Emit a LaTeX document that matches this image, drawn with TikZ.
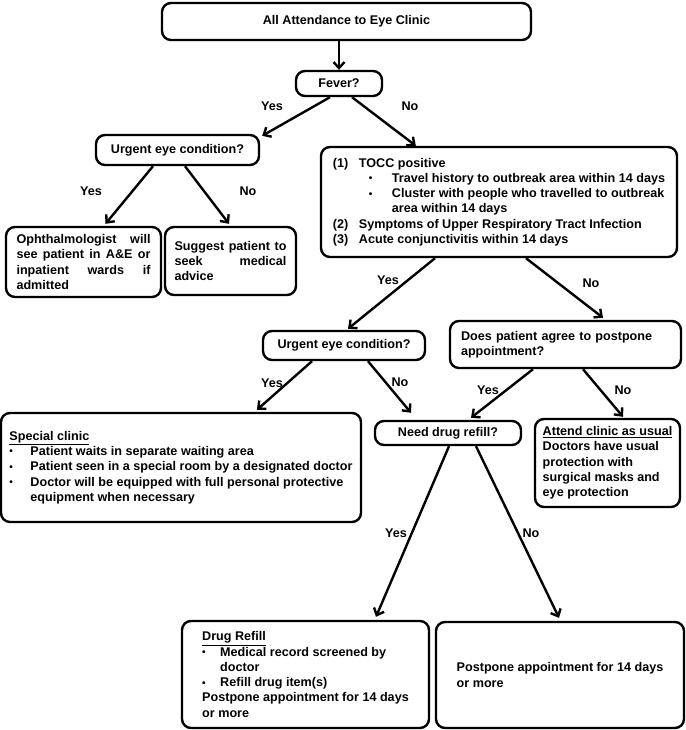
\documentclass[tikz,border=0pt]{standalone}
\usepackage{fontspec}
\setmainfont{Liberation Sans}
\usetikzlibrary{arrows.meta, calc}
\definecolor{ink}{HTML}{000000}
\newcommand{\FlowF}{\fontsize{12.6}{15.3}\selectfont\bfseries}
\newcommand{\flowbox}[7][]{%
  \node[box, minimum width={(#5-#3)*1pt}, minimum height={(#6-#4)*1pt}, #1]
    (#2) at ({(#3+#5)/2},{(#4+#6)/2}) {#7};
}
\newcommand{\bulitem}[1][21pt]{\makebox[#1][l]{\raisebox{0.5pt}{\scalebox{0.8}{\textbullet}}}}
\newcommand{\numitem}[1]{\makebox[26pt][l]{(#1)}}
\newcommand{\jline}[2]{\makebox[#1][s]{#2}}

\begin{document}
\begin{tikzpicture}[x=1pt, y=-1pt,
  box/.style={draw=ink, line width=2.4pt, rounded corners=9pt, inner sep=2pt,
    align=left, font=\FlowF, text=ink},
  lbl/.style={font=\FlowF, text=ink, inner sep=1pt},
  arr/.style={draw=ink, line width=2.4pt, -{Straight Barb[length=6pt,width=11pt]}}]
\fill[white] (0,0) rectangle (685,730);
\useasboundingbox (0,0) rectangle (685,730);

\flowbox{top}{162}{3}{531}{40}{All Attendance to Eye Clinic}
\flowbox{fever}{296}{71}{382}{96}{Fever?}
\flowbox{urg1}{96}{135}{259}{165}{Urgent eye condition?}
\flowbox{tocc}{321}{147}{677}{257}{%
  \numitem{1}TOCC positive\\
  \hspace*{36pt}\bulitem[23pt]Travel history to outbreak area within 14 days\\
  \hspace*{36pt}\bulitem[23pt]Cluster with people who travelled to outbreak\\
  \hspace*{59pt}area within 14 days\\
  \numitem{2}Symptoms of Upper Respiratory Tract Infection\\
  \numitem{3}Acute conjunctivitis within 14 days}
\flowbox{ophth}{6}{227}{161}{297}{%
  \jline{134pt}{Ophthalmologist will}\\
  \jline{134pt}{see patient in A\&E or}\\
  \jline{134pt}{inpatient wards if}\\
  admitted}
\flowbox{sugg}{165}{227}{296}{295}{%
  \jline{112pt}{Suggest patient to}\\
  \jline{112pt}{seek medical}\\
  advice}
\flowbox{urg2}{263}{331}{425}{360}{Urgent eye condition?}
\flowbox[text width=209pt]{does}{450}{321}{681}{368}{%
  Does patient agree to postpone\\
  appointment?}
\flowbox{special}{1}{413}{361}{522}{%
  \underline{Special clinic}\\
  \bulitem Patient waits in separate waiting area\\
  \bulitem Patient seen in a special room by a designated doctor\\
  \bulitem Doctor will be equipped with full personal protective\\
  \hspace*{21pt}equipment when necessary}
\flowbox{need}{375}{421}{521}{445}{Need drug refill?}
\flowbox{attend}{535}{419}{680}{507}{%
  \underline{Attend clinic as usual}\\
  Doctors have usual\\
  protection with\\
  surgical masks and\\
  eye protection}
\flowbox{refill}{182}{621}{429}{728}{%
  \underline{Drug Refill}\\
  \bulitem[18pt]Medical record screened by\\
  \hspace*{18pt}doctor\\
  \bulitem[18pt]Refill drug item(s)\\
  Postpone appointment for 14 days\\
  or more}
\flowbox{post}{436}{622}{684}{728}{%
  Postpone appointment for 14 days\\
  or more}

\draw[arr] (top.south -| fever.north) -- (fever.north);
\draw[arr] ($(fever.south)+(-9,0)$) -- ($(urg1.north east)+(2,2)$);
\draw[arr] ($(fever.south)+(13,0)$) -- ($(tocc.north west)+(96,0)$);
\draw[arr] ($(urg1.south)+(-24.5,0)$) -- ($(ophth.north)+(22,-2)$);
\draw[arr] ($(urg1.south)+(7.5,0)$) -- ($(sugg.north)+(-1.5,-2)$);
\draw[arr] ($(tocc.south)+(-64,0)$) -- ($(urg2.north)+(4,-1)$);
\draw[arr] ($(tocc.south)+(27,0)$) -- ($(does.north)+(37.5,-2)$);
\draw[arr] ($(urg2.south)+(-32,0)$) -- ($(special.north)+(76,-2)$);
\draw[arr] ($(urg2.south)+(24,0)$) -- ($(need.north)+(-37,-7)$);
\draw[arr] ($(does.south)+(-32.5,0)$) -- ($(need.north)+(23,-2)$);
\draw[arr] ($(does.south)+(17.5,0)$) -- ($(attend.north)+(15.5,-1)$);
\draw[arr] ($(need.south)+(1,0)$) -- ($(refill.north)+(70.5,-3)$);
\draw[arr] ($(need.south)+(28,0)$) -- ($(post.north)+(-1,-3)$);

\node[lbl] (feverY) at (272,106) {Yes};
\node[lbl] (feverN) at (410,106) {No};
\node[lbl] (urg1Y) at (91,191) {Yes};
\node[lbl] (urg1N) at (248,191) {No};
\node[lbl] (toccY) at (388,280) {Yes};
\node[lbl] (toccN) at (591,283) {No};
\node[lbl] (urg2Y) at (272,383) {Yes};
\node[lbl] (urg2N) at (400,382) {No};
\node[lbl] (doesY) at (488,390) {Yes};
\node[lbl] (doesN) at (623,390) {No};
\node[lbl] (needY) at (396,533) {Yes};
\node[lbl] (needN) at (531,533) {No};
\end{tikzpicture}
\end{document}
